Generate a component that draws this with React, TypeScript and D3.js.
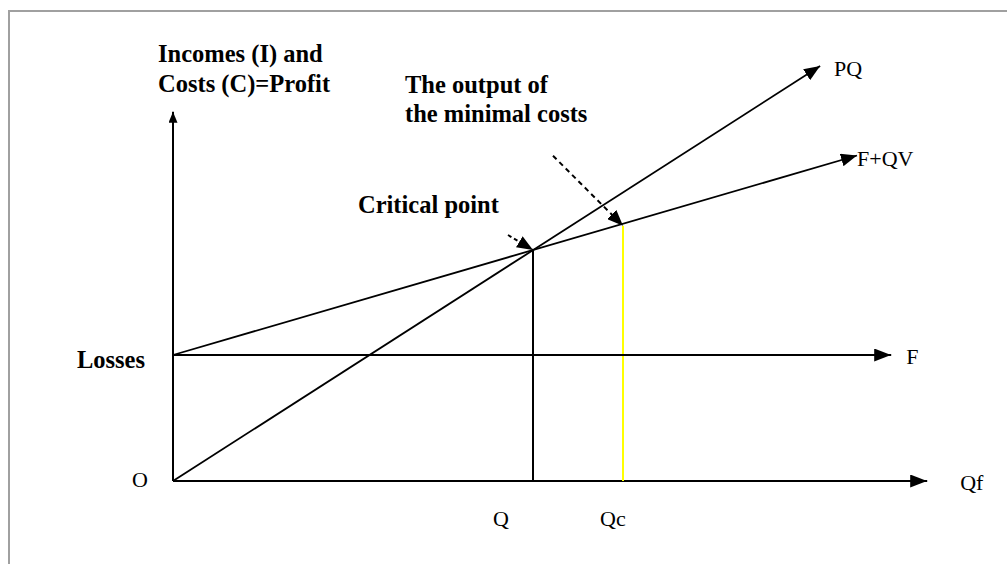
import React from "react";
import * as d3 from "d3";

// quantity axis values (Q = critical point, Qc = output of minimal costs)
const tickNames = ["Q", "Qc"];
const tickValues = [4, 5];

// lines drawn as [start, end] in chart units
const lineNames = ["PQ", "F+QV", "F"];
const lineStartY = [0, 3, 3];
const lineEndX = [7.19, 7.6, 7.98];
const lineEndY = [9.88, 7.75, 3];

const fixedCost = 3;
const variableCost = 0.625;
const axisEndX = 8.38;
const axisEndY = 8.79;

const BreakEvenChart: React.FC = () => {
  const svgRef = React.useRef<SVGSVGElement | null>(null);

  React.useEffect(() => {
    if (!svgRef.current) return;
    const svg = d3.select(svgRef.current);
    svg.selectAll("*").remove();

    const width = 1007;
    const height = 564;
    svg.attr("width", width).attr("height", height);

    const x = d3.scaleLinear().domain([0, 9]).range([173, 983]);
    const y = d3.scaleLinear().domain([0, 10]).range([481, 61]);

    const serif = "'Liberation Serif', 'Times New Roman', serif";

    // frame
    svg.append("path")
      .attr("d", `M9,${height} L9,11 L${width},11`)
      .attr("fill", "none")
      .attr("stroke", "#a0a0a0")
      .attr("stroke-width", 2);

    const defs = svg.append("defs");
    const addMarker = (id: string, len: number, wid: number) => {
      defs.append("marker")
        .attr("id", id)
        .attr("markerUnits", "userSpaceOnUse")
        .attr("markerWidth", len)
        .attr("markerHeight", wid)
        .attr("refX", len)
        .attr("refY", wid / 2)
        .attr("orient", "auto")
        .append("path")
        .attr("d", `M0,0 L${len},${wid / 2} L0,${wid} Z`)
        .attr("fill", "#000");
    };
    addMarker("big", 17, 13);
    addMarker("mid", 16, 13);
    addMarker("small", 11, 9);

    // axes
    svg.append("line")
      .attr("x1", x(0)).attr("y1", y(0))
      .attr("x2", x(0)).attr("y2", y(axisEndY))
      .attr("stroke", "#000").attr("stroke-width", 2)
      .attr("marker-end", "url(#small)");
    svg.append("line")
      .attr("x1", x(0)).attr("y1", y(0))
      .attr("x2", x(axisEndX)).attr("y2", y(0))
      .attr("stroke", "#000").attr("stroke-width", 2)
      .attr("marker-end", "url(#big)");

    // vertical drops at Q and Qc
    svg.append("line")
      .attr("x1", x(tickValues[0])).attr("y1", y(0))
      .attr("x2", x(tickValues[0])).attr("y2", y(fixedCost + variableCost * tickValues[0]))
      .attr("stroke", "#000").attr("stroke-width", 2);
    svg.append("line")
      .attr("x1", x(tickValues[1])).attr("y1", y(0))
      .attr("x2", x(tickValues[1])).attr("y2", y(fixedCost + variableCost * tickValues[1]) + 2)
      .attr("stroke", "#ffff00").attr("stroke-width", 2);

    // the three lines
    lineNames.forEach((name, i) => {
      svg.append("line")
        .attr("x1", x(0)).attr("y1", y(lineStartY[i]))
        .attr("x2", x(lineEndX[i])).attr("y2", y(lineEndY[i]))
        .attr("stroke", "#000")
        .attr("stroke-width", i === 2 ? 2 : 1.8)
        .attr("marker-end", i === 2 ? "url(#big)" : "url(#mid)");
    });

    // annotation arrows
    const crit = [x(tickValues[0]), y(fixedCost + variableCost * tickValues[0])];
    const minc = [x(tickValues[1]), y(fixedCost + variableCost * tickValues[1]) + 2];
    svg.append("line")
      .attr("x1", crit[0] - 25).attr("y1", crit[1] - 15)
      .attr("x2", crit[0]).attr("y2", crit[1])
      .attr("stroke", "#000").attr("stroke-width", 2)
      .attr("stroke-dasharray", "4,3")
      .attr("marker-end", "url(#mid)");
    svg.append("line")
      .attr("x1", minc[0] - 70).attr("y1", minc[1] - 70)
      .attr("x2", minc[0]).attr("y2", minc[1])
      .attr("stroke", "#000").attr("stroke-width", 2)
      .attr("stroke-dasharray", "5,4")
      .attr("marker-end", "url(#mid)");

    // bold titles
    const boldText = (t: string, tx: number, ty: number, anchor = "start") =>
      svg.append("text")
        .attr("x", tx).attr("y", ty)
        .attr("text-anchor", anchor)
        .attr("font-family", serif)
        .attr("font-weight", "bold")
        .attr("font-size", 24.5)
        .attr("fill", "#000")
        .text(t);
    boldText("Incomes (I) and", 158, 62);
    boldText("Costs (C)=Profit", 158, 92);
    boldText("The output of", 405, 93);
    boldText("the minimal costs", 405, 122);
    boldText("Critical point", 358, 213);
    boldText("Losses", 145, y(fixedCost) + 13, "end");

    // regular labels
    const plain = (t: string, tx: number, ty: number) =>
      svg.append("text")
        .attr("x", tx).attr("y", ty)
        .attr("font-family", serif)
        .attr("font-size", 22)
        .attr("fill", "#000")
        .text(t);
    plain("O", x(0) - 41, y(0) + 6);
    plain("Qf", x(axisEndX) + 33, y(0) + 9);
    plain(lineNames[0], x(lineEndX[0]) + 14, y(lineEndY[0]) + 10);
    plain(lineNames[1], x(lineEndX[1]), y(lineEndY[1]) + 10);
    plain(lineNames[2], x(lineEndX[2]) + 15, y(lineEndY[2]) + 9);
    tickNames.forEach((t, i) => {
      plain(t, x(tickValues[i]) - (i === 0 ? 40 : 23), 526);
    });
  }, []);

  return <svg ref={svgRef} style={{ position: "absolute", left: 0, top: 0, background: "#fff" }}></svg>;
};

const App: React.FC = () => <BreakEvenChart />;

export default App;
